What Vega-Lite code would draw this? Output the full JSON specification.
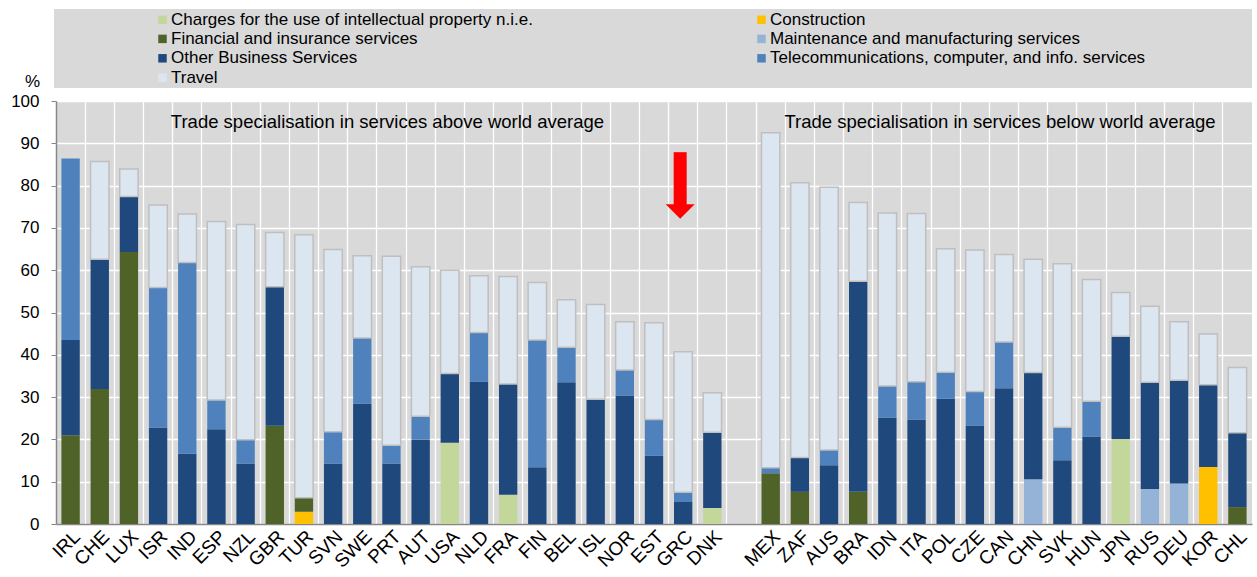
{
  "$schema": "https://vega.github.io/schema/vega-lite/v6.json",
  "width": 1196,
  "height": 423,
  "autosize": {"type": "none"},
  "padding": {"left": 56, "top": 101, "right": 5, "bottom": 53},
  "background": "#ffffff",
  "config": {
    "font": "Liberation Sans",
    "view": {"fill": "#d9d9d9", "stroke": null},
    "axis": {"gridColor": "#ffffff", "gridWidth": 1.3, "gridOpacity": 1, "domainColor": "#868686", "domainWidth": 1.5, "tickColor": "#868686", "labelColor": "#000000", "labelFont": "Liberation Sans", "labelFontSize": 17}
  },
  "datasets": {
    "categories": [
      {"key": "con", "category": "Construction", "rank": 0},
      {"key": "mnt", "category": "Maintenance and manufacturing services", "rank": 1},
      {"key": "chg", "category": "Charges for the use of intellectual property n.i.e.", "rank": 2},
      {"key": "fin", "category": "Financial and insurance services", "rank": 3},
      {"key": "obs", "category": "Other Business Services", "rank": 4},
      {"key": "tel", "category": "Telecommunications,  computer,  and info. services", "rank": 5},
      {"key": "trav", "category": "Travel", "rank": 6}
    ],
    "trade": [
      {"country": "IRL", "fin": 21.0, "obs": 22.5, "tel": 42.9},
      {"country": "CHE", "fin": 31.9, "obs": 30.7, "trav": 23.1},
      {"country": "LUX", "fin": 64.3, "obs": 13.1, "trav": 6.5},
      {"country": "ISR", "obs": 22.8, "tel": 33.1, "trav": 19.5},
      {"country": "IND", "obs": 16.6, "tel": 45.2, "trav": 11.5},
      {"country": "ESP", "obs": 22.4, "tel": 6.9, "trav": 42.2},
      {"country": "NZL", "obs": 14.3, "tel": 5.6, "trav": 50.9},
      {"country": "GBR", "fin": 23.2, "obs": 32.9, "trav": 12.8},
      {"country": "TUR", "con": 2.9, "fin": 3.3, "trav": 62.2},
      {"country": "SVN", "obs": 14.3, "tel": 7.5, "trav": 43.1},
      {"country": "SWE", "obs": 28.5, "tel": 15.5, "trav": 19.4},
      {"country": "PRT", "obs": 14.3, "tel": 4.3, "trav": 44.7},
      {"country": "AUT", "obs": 20.0, "tel": 5.5, "trav": 35.3},
      {"country": "USA", "chg": 19.2, "obs": 16.4, "trav": 24.4},
      {"country": "NLD", "obs": 33.6, "tel": 11.7, "trav": 13.4},
      {"country": "FRA", "chg": 6.9, "obs": 26.2, "trav": 25.4},
      {"country": "FIN", "obs": 13.4, "tel": 30.1, "trav": 13.6},
      {"country": "BEL", "obs": 33.5, "tel": 8.3, "trav": 11.2},
      {"country": "ISL", "obs": 29.5, "trav": 22.4},
      {"country": "NOR", "obs": 30.3, "tel": 6.1, "trav": 11.4},
      {"country": "EST", "obs": 16.1, "tel": 8.6, "trav": 22.9},
      {"country": "GRC", "obs": 5.2, "tel": 2.3, "trav": 33.2},
      {"country": "DNK", "chg": 3.8, "obs": 17.9, "trav": 9.3},
      {"country": "MEX", "fin": 12.0, "tel": 1.3, "trav": 79.2},
      {"country": "ZAF", "fin": 7.6, "obs": 8.1, "trav": 65.0},
      {"country": "AUS", "obs": 13.9, "tel": 3.6, "trav": 62.1},
      {"country": "BRA", "fin": 7.6, "obs": 49.8, "trav": 18.6},
      {"country": "IDN", "obs": 25.1, "tel": 7.5, "trav": 40.9},
      {"country": "ITA", "obs": 24.7, "tel": 8.9, "trav": 39.8},
      {"country": "POL", "obs": 29.6, "tel": 6.3, "trav": 29.2},
      {"country": "CZE", "obs": 23.2, "tel": 8.1, "trav": 33.5},
      {"country": "CAN", "obs": 32.1, "tel": 10.9, "trav": 20.7},
      {"country": "CHN", "mnt": 10.6, "obs": 25.2, "trav": 26.8},
      {"country": "SVK", "obs": 15.1, "tel": 7.8, "trav": 38.6},
      {"country": "HUN", "obs": 20.6, "tel": 8.4, "trav": 28.8},
      {"country": "JPN", "chg": 20.1, "obs": 24.3, "trav": 10.3},
      {"country": "RUS", "mnt": 8.3, "obs": 25.2, "trav": 18.0},
      {"country": "DEU", "mnt": 9.6, "obs": 24.4, "trav": 13.8},
      {"country": "KOR", "con": 13.5, "obs": 19.4, "trav": 12.0},
      {"country": "CHL", "fin": 4.0, "obs": 17.6, "trav": 15.4}
    ],
    "notes": [
      {"country": "PRT", "value": 95, "label": "Trade specialisation in services above world average"},
      {"country": "CAN", "value": 95, "label": "Trade specialisation in services below world average"}
    ],
    "arrow": [
      {"country": "GRC", "from": 87.9, "to": 75.0, "tip": 73.9}
    ]
  },
  "encoding": {
    "x": {
      "field": "country",
      "type": "nominal",
      "title": null,
      "scale": {
        "domain": ["IRL","CHE","LUX","ISR","IND","ESP","NZL","GBR","TUR","SVN","SWE","PRT","AUT","USA","NLD","FRA","FIN","BEL","ISL","NOR","EST","GRC","DNK"," ","MEX","ZAF","AUS","BRA","IDN","ITA","POL","CZE","CAN","CHN","SVK","HUN","JPN","RUS","DEU","KOR","CHL"],
        "paddingInner": 0,
        "paddingOuter": 0
      },
      "axis": {
        "labelAngle": -45,
        "labelAlign": "right",
        "labelBaseline": "top",
        "labelPadding": 3,
        "labelFontSize": 19,
        "ticks": false,
        "grid": true,
        "bandPosition": 0,
        "domainColor": "#868686"
      }
    }
  },
  "layer": [
    {
      "data": {"name": "trade"},
      "transform": [
        {"fold": ["chg", "con", "fin", "mnt", "obs", "tel", "trav"], "as": ["key", "value"]},
        {"filter": "datum.value > 0"},
        {"lookup": "key", "from": {"data": {"name": "categories"}, "key": "key", "fields": ["category", "rank"]}}
      ],
      "mark": {"type": "bar", "width": {"band": 0.63}, "stroke": "#bfbfbf"},
      "encoding": {
        "y": {
          "field": "value",
          "type": "quantitative",
          "stack": "zero",
          "scale": {"domain": [0, 100], "nice": false},
          "axis": {"values": [0, 10, 20, 30, 40, 50, 60, 70, 80, 90, 100], "title": "%", "titleAngle": 0, "titleX": -24, "titleY": -20, "titleAlign": "center", "titleBaseline": "middle", "titleFontSize": 17, "titleFontWeight": "normal", "titleFont": "Liberation Sans", "titleColor": "#000000", "tickSize": 5, "labelPadding": 12, "grid": true}
        },
        "order": {"field": "rank", "type": "quantitative", "sort": "ascending"},
        "strokeWidth": {"condition": {"test": "datum.category === 'Travel'", "value": 1.5}, "value": 0},
        "color": {
          "field": "category",
          "type": "nominal",
          "scale": {
            "domain": ["Charges for the use of intellectual property n.i.e.", "Financial and insurance services", "Other Business Services", "Travel", "Construction", "Maintenance and manufacturing services", "Telecommunications,  computer,  and info. services"],
            "range": ["#c4d79b", "#4f6228", "#1f497d", "#dce6f1", "#ffc000", "#95b3d7", "#4f81bd"]
          },
          "legend": {
            "orient": "none",
            "legendX": -2,
            "legendY": -92,
            "columns": 2,
            "title": " ",
            "titleOrient": "left",
            "titleFontSize": 1,
            "titlePadding": 98,
            "padding": 2,
            "fillColor": "#d9d9d9",
            "strokeColor": null,
            "labelFont": "Liberation Sans",
            "labelFontSize": 17,
            "labelColor": "#000000",
            "labelLimit": 700,
            "labelOffset": 0,
            "symbolType": "square",
            "symbolSize": 72,
            "symbolStrokeWidth": 0,
            "symbolOpacity": 1,
            "rowPadding": 1.4,
            "columnPadding": 220,
            "labelExpr": "datum.label == 'Telecommunications,  computer,  and info. services' ? datum.label + '                    \u200b' : datum.label"
          }
        }
      }
    },
    {
      "data": {"name": "notes"},
      "mark": {"type": "text", "fontSize": 18.5, "font": "Liberation Sans", "color": "#000000", "align": "center", "baseline": "middle", "dx": -4},
      "encoding": {
        "y": {"field": "value", "type": "quantitative", "scale": {"domain": [0, 100], "nice": false}, "axis": {"values": [0, 10, 20, 30, 40, 50, 60, 70, 80, 90, 100], "title": "%", "titleAngle": 0, "titleX": -24, "titleY": -20, "titleAlign": "center", "titleBaseline": "middle", "titleFontSize": 17, "titleFontWeight": "normal", "titleFont": "Liberation Sans", "titleColor": "#000000", "tickSize": 5, "labelPadding": 12, "grid": true}},
        "text": {"field": "label"}
      }
    },
    {
      "data": {"name": "arrow"},
      "mark": {"type": "rule", "color": "#ff0000", "strokeWidth": 13, "strokeCap": "butt", "xOffset": -3},
      "encoding": {
        "y": {"field": "from", "type": "quantitative", "scale": {"domain": [0, 100], "nice": false}, "axis": {"values": [0, 10, 20, 30, 40, 50, 60, 70, 80, 90, 100], "title": "%", "titleAngle": 0, "titleX": -24, "titleY": -20, "titleAlign": "center", "titleBaseline": "middle", "titleFontSize": 17, "titleFontWeight": "normal", "titleFont": "Liberation Sans", "titleColor": "#000000", "tickSize": 5, "labelPadding": 12, "grid": true}},
        "y2": {"field": "to"}
      }
    },
    {
      "data": {"name": "arrow"},
      "mark": {"type": "point", "shape": "M-1,-0.5L1,-0.5L0,0.5Z", "filled": true, "color": "#ff0000", "opacity": 1, "size": 841, "strokeWidth": 0, "xOffset": -3},
      "encoding": {
        "y": {"field": "tip", "type": "quantitative", "scale": {"domain": [0, 100], "nice": false}, "axis": {"values": [0, 10, 20, 30, 40, 50, 60, 70, 80, 90, 100], "title": "%", "titleAngle": 0, "titleX": -24, "titleY": -20, "titleAlign": "center", "titleBaseline": "middle", "titleFontSize": 17, "titleFontWeight": "normal", "titleFont": "Liberation Sans", "titleColor": "#000000", "tickSize": 5, "labelPadding": 12, "grid": true}}
      }
    }
  ]
}
